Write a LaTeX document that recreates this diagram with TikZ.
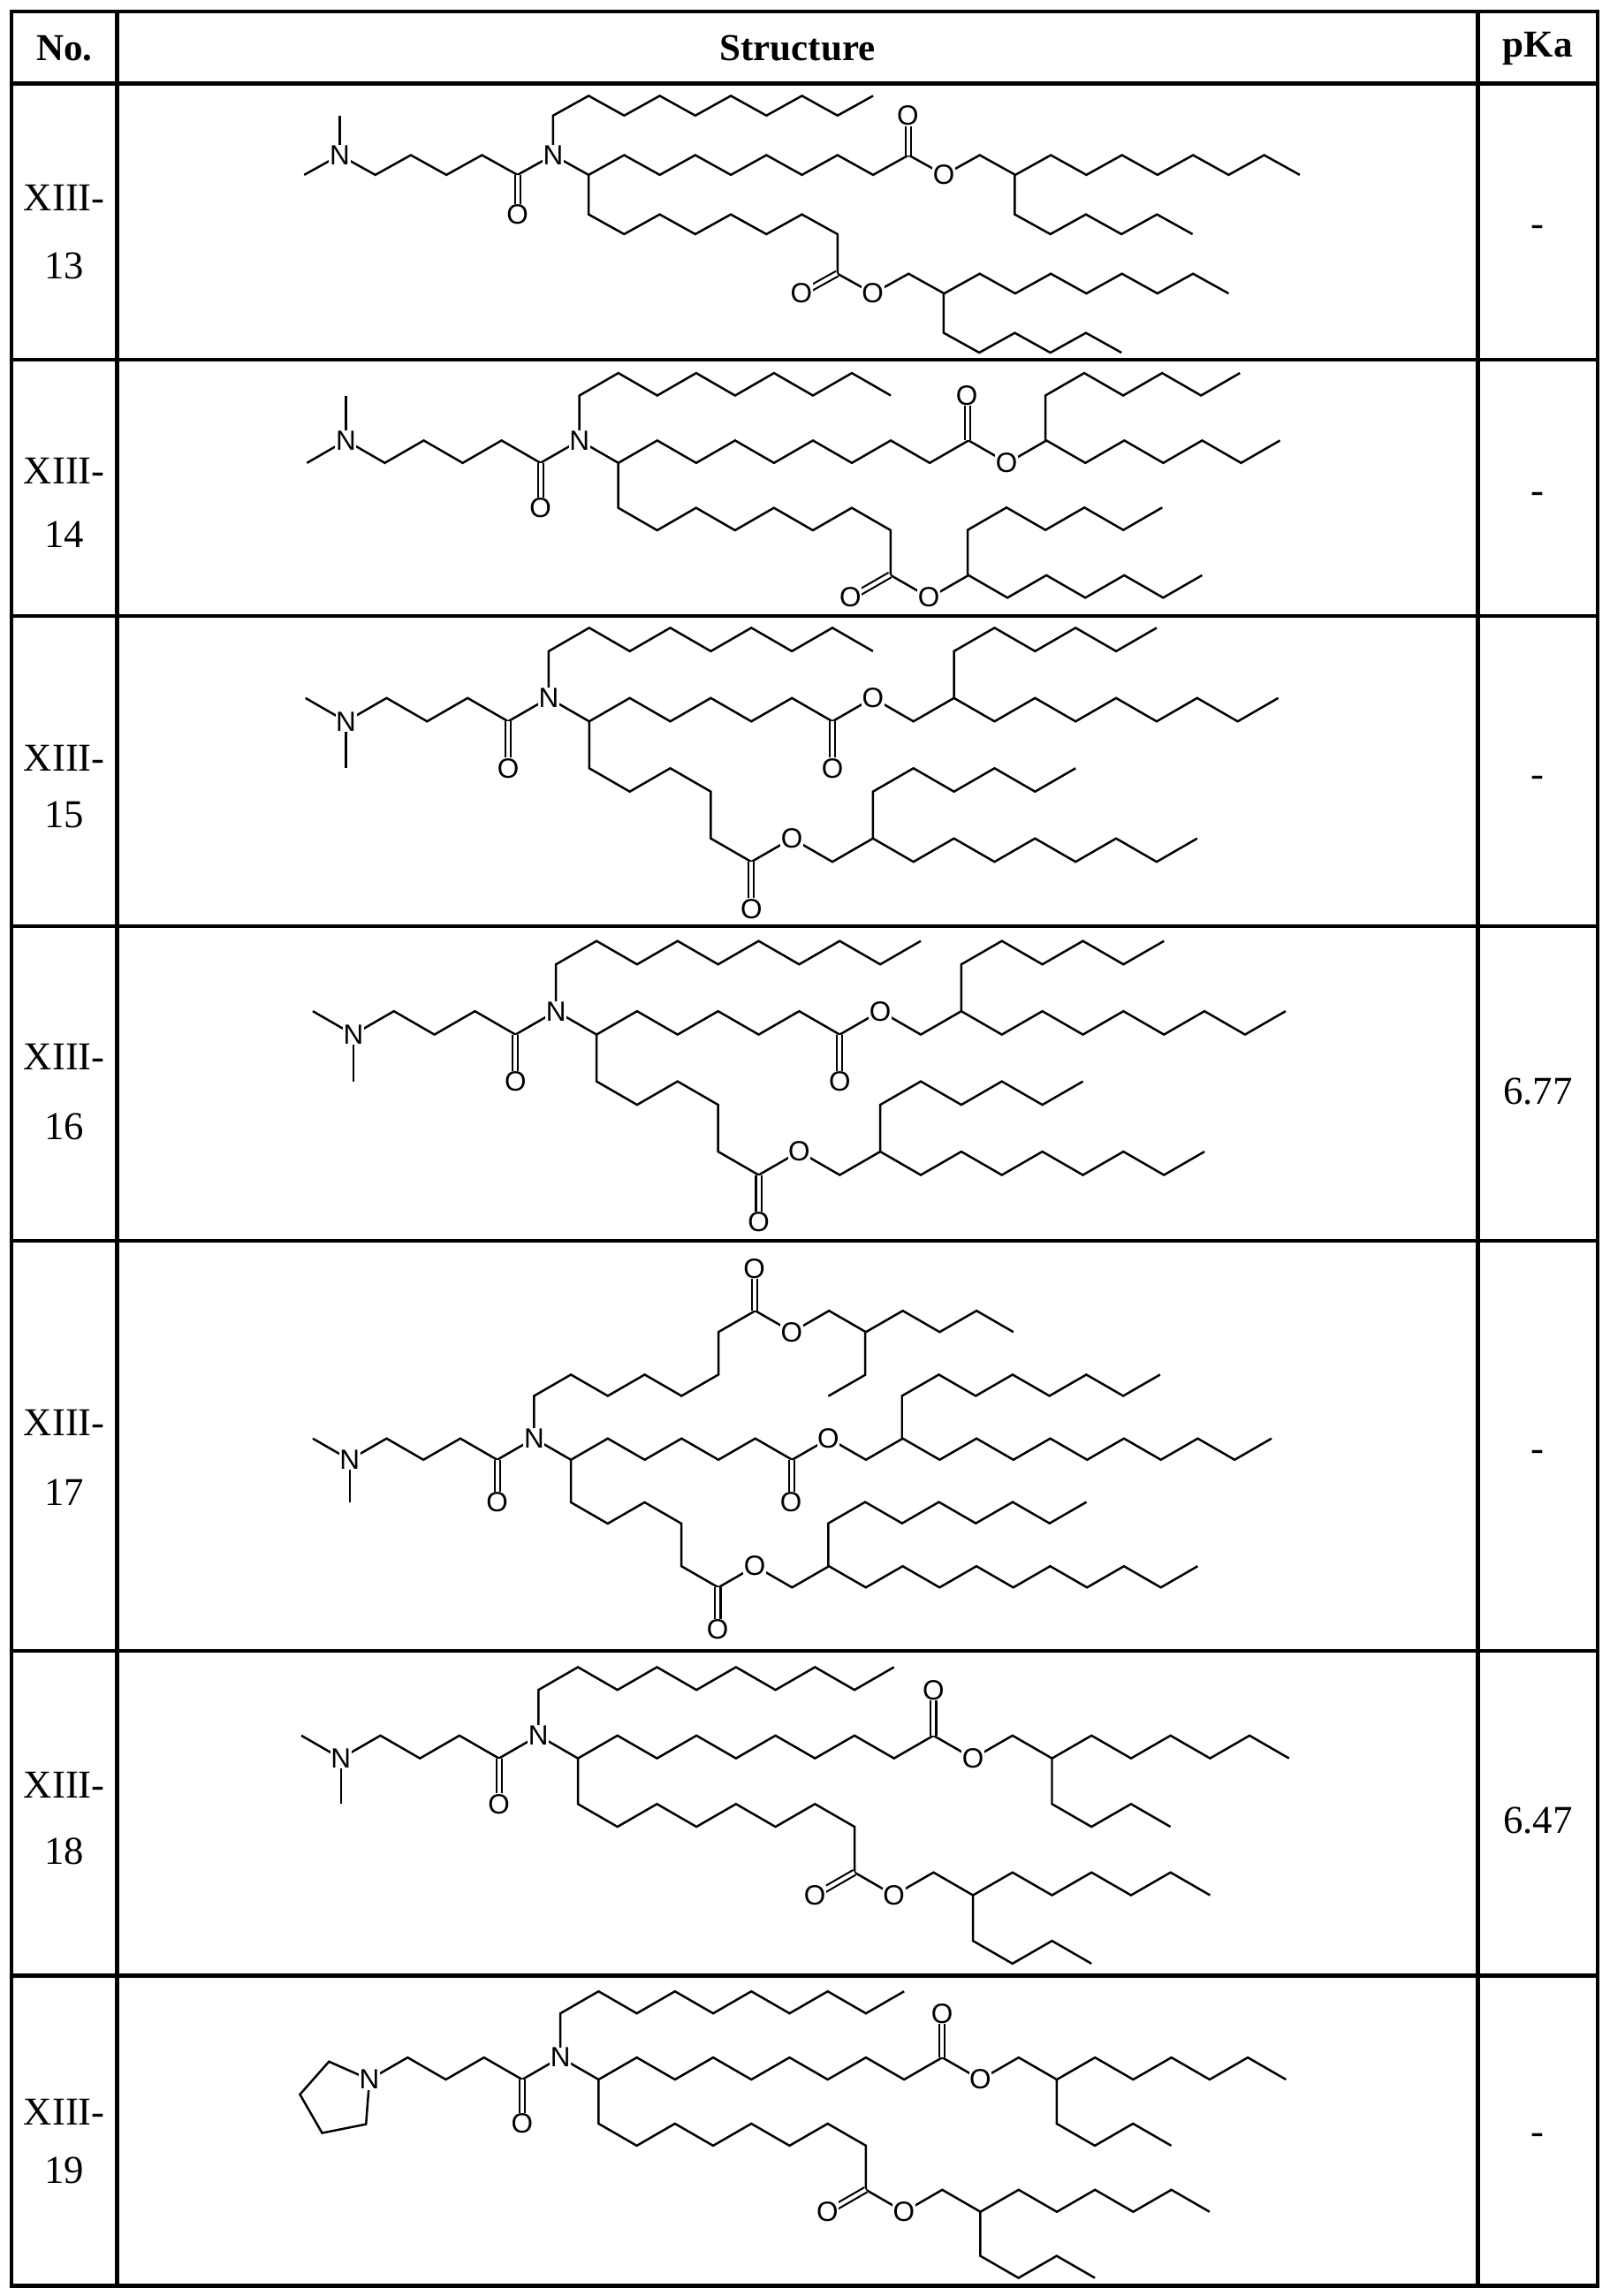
\documentclass[tikz,border=0pt]{standalone}
\usepackage{fontspec}
\setmainfont{Liberation Serif}
\newfontfamily\atomfont{Liberation Sans}
\tikzset{
  bond/.style={line width=1.5pt, line join=miter},
  dbl/.style={line width=1.3pt, double, double distance=2.4pt},
  atomlbl/.style={fill=white, inner sep=0.4pt, font=\atomfont\fontsize{19}{19}\selectfont},
  tbl/.style={line width=2.6pt},
  cell/.style={font=\fontsize{27}{27}\selectfont},
  hcell/.style={font=\bfseries\fontsize{26}{26}\selectfont}
}
\def\U{-- ++(1,-0.577)}
\def\D{-- ++(1,0.577)}
\def\Vd{-- ++(0,1.155)}
\def\Vu{-- ++(0,-1.155)}
\newcommand\atom[2]{\node[atomlbl] at (#1) {#2};}
\newcommand\headsix{%
  \draw[bond] (-6,0) \D\U\D\U\D\U;
  \draw[bond] (-6,0) -- (-6,-1.155);
  \draw[bond] (-6,0) -- (-7,0.577);
  \draw[dbl] (-1,0.577) -- (-1,1.732);
  \atom{-6,0}{N} \atom{0,0}{N} \atom{-1,1.732}{O}}
\newcommand\headfive{%
  \draw[bond] (-5,0.577) \U\D\U\D\U;
  \draw[bond] (-5,0.577) -- (-6,0);
  \draw[bond] (-5,0.577) -- (-5,1.732);
  \draw[dbl] (-1,0.577) -- (-1,1.732);
  \atom{-5,0.577}{N} \atom{0,0}{N} \atom{-1,1.732}{O}}
\newcommand\headpyr{%
  \draw[bond] (-5,0.577) \U\D\U\D\U;
  \draw[bond] (-5,0.577) -- ++(-1.06,-0.47) -- ++(-0.76,0.86) -- ++(0.58,1.01) -- ++(1.15,-0.23) -- cycle;
  \draw[dbl] (-1,0.577) -- (-1,1.732);
  \atom{-5,0.577}{N} \atom{0,0}{N} \atom{-1,1.732}{O}}
\begin{document}
\begin{tikzpicture}[x=1pt,y=-1pt]
\useasboundingbox (0,0) rectangle (1100,1569);
% table
\draw[tbl] (8,8) rectangle (1092,1562);
\foreach \yy in {57,246,421,633,848,1128,1350} {\draw[tbl] (8,\yy) -- (1092,\yy);}
\draw[tbl] (80,8) -- (80,1562);
\draw[tbl] (1010,8) -- (1010,1562);
\node[hcell] (hno) at (44,33) {No.};
\node[hcell] (hst) at (545,33) {Structure};
\node[hcell] (hpk) at (1051,33) {pKa};
\foreach \a/\b/\n in {135/182/13,322/365/14,518/557/15,722/770/16,972/1020/17,1220/1265/18,1443/1483/19} {
  \node[cell] at (44,\a) {XIII-};
  \node[cell] at (44,\b) {\n};
}
\node[cell] at (1051,158) {-};
\node[cell] at (1051,340) {-};
\node[cell] at (1051,534) {-};
\node[cell] at (1051,746) {6.77};
\node[cell] at (1051,995) {-};
\node[cell] at (1051,1244) {6.47};
\node[cell] at (1051,1462) {-};

% ---------- XIII-13
\begin{scope}[shift={(378,106)},xscale=24.3,yscale=23.4]
\draw[bond] (0,0) -- (0,-1.155) \U\D\U\D\U\D\U\D\U;
\draw[bond] (0,0) \D coordinate(ch) \U\D\U\D\U\D\U\D\U coordinate(c1) \D coordinate(o1) \U\D coordinate(b1) \U\D\U\D\U\D\U\D;
\draw[bond] (b1) \Vd \D\U\D\U\D;
\draw[dbl] (c1) -- ++(0,-1.155) coordinate(oc1);
\draw[bond] (ch) \Vd \D\U\D\U\D\U\D \Vd coordinate(c2) \D coordinate(o2) \U\D coordinate(b2) \U\D\U\D\U\D\U\D;
\draw[bond] (b2) \Vd \D\U\D\U\D;
\draw[dbl] (c2) -- ++(-1,0.577) coordinate(oc2);
\headsix
\atom{o1}{O} \atom{o2}{O} \atom{oc1}{O} \atom{oc2}{O}
\end{scope}

% ---------- XIII-14
\begin{scope}[shift={(396,301)},scale=26.6]
\draw[bond] (0,0) -- (0,-1.155) \U\D\U\D\U\D\U\D;
\draw[bond] (0,0) \D coordinate(ch) \U\D\U\D\U\D\U\D\U coordinate(c1) \D coordinate(o1) \U coordinate(b1) \D\U\D\U\D\U;
\draw[bond] (b1) \Vu \U\D\U\D\U;
\draw[dbl] (c1) -- ++(0,-1.155) coordinate(oc1);
\draw[bond] (ch) \Vd \D\U\D\U\D\U\D \Vd coordinate(c2) \D coordinate(o2) \U coordinate(b2) \D\U\D\U\D\U;
\draw[bond] (b2) \Vu \U\D\U\D\U;
\draw[dbl] (c2) -- ++(-1,0.577) coordinate(oc2);
\headsix
\atom{o1}{O} \atom{o2}{O} \atom{oc1}{O} \atom{oc2}{O}
\end{scope}

% ---------- XIII-15
\begin{scope}[shift={(375,477)},scale=27.7]
\draw[bond] (0,0) -- (0,-1.155) \U\D\U\D\U\D\U\D;
\draw[bond] (0,0) \D coordinate(ch) \U\D\U\D\U\D coordinate(c1) \U coordinate(o1) \D\U coordinate(b1) \D\U\D\U\D\U\D\U;
\draw[bond] (b1) \Vu \U\D\U\D\U;
\draw[dbl] (c1) -- ++(0,1.155) coordinate(oc1);
\draw[bond] (ch) \Vd \D\U\D \Vd \D coordinate(c2) \U coordinate(o2) \D\U coordinate(b2) \D\U\D\U\D\U\D\U;
\draw[bond] (b2) \Vu \U\D\U\D\U;
\draw[dbl] (c2) -- ++(0,1.155) coordinate(oc2);
\headfive
\atom{o1}{O} \atom{o2}{O} \atom{oc1}{O} \atom{oc2}{O}
\end{scope}

% ---------- XIII-16
\begin{scope}[shift={(380,691)},scale=27.7]
\draw[bond] (0,0) -- (0,-1.155) \U\D\U\D\U\D\U\D\U;
\draw[bond] (0,0) \D coordinate(ch) \U\D\U\D\U\D coordinate(c1) \U coordinate(o1) \D\U coordinate(b1) \D\U\D\U\D\U\D\U;
\draw[bond] (b1) \Vu \U\D\U\D\U;
\draw[dbl] (c1) -- ++(0,1.155) coordinate(oc1);
\draw[bond] (ch) \Vd \D\U\D \Vd \D coordinate(c2) \U coordinate(o2) \D\U coordinate(b2) \D\U\D\U\D\U\D\U;
\draw[bond] (b2) \Vu \U\D\U\D\U;
\draw[dbl] (c2) -- ++(0,1.155) coordinate(oc2);
\headfive
\atom{o1}{O} \atom{o2}{O} \atom{oc1}{O} \atom{oc2}{O}
\end{scope}

% ---------- XIII-17
\begin{scope}[shift={(365,983)},scale=25.2]
\draw[bond] (0,0) -- (0,-1.155) \U\D\U\D\U \Vu \U coordinate(c3) \D coordinate(o3) \U\D coordinate(b3) \U\D\U\D;
\draw[bond] (b3) \Vd -- ++(-1,0.577);
\draw[dbl] (c3) -- ++(0,-1.155) coordinate(oc3);
\draw[bond] (0,0) \D coordinate(ch) \U\D\U\D\U\D coordinate(c1) \U coordinate(o1) \D\U coordinate(b1) \D\U\D\U\D\U\D\U\D\U;
\draw[bond] (b1) \Vu \U\D\U\D\U\D\U;
\draw[dbl] (c1) -- ++(0,1.155) coordinate(oc1);
\draw[bond] (ch) \Vd \D\U\D \Vd \D coordinate(c2) \U coordinate(o2) \D\U coordinate(b2) \D\U\D\U\D\U\D\U\D\U;
\draw[bond] (b2) \Vu \U\D\U\D\U\D\U;
\draw[dbl] (c2) -- ++(0,1.155) coordinate(oc2);
\headfive
\atom{o1}{O} \atom{o2}{O} \atom{o3}{O} \atom{oc1}{O} \atom{oc2}{O} \atom{oc3}{O}
\end{scope}

% ---------- XIII-18
\begin{scope}[shift={(368,1186)},scale=27.0]
\draw[bond] (0,0) -- (0,-1.155) \U\D\U\D\U\D\U\D\U;
\draw[bond] (0,0) \D coordinate(ch) \U\D\U\D\U\D\U\D\U coordinate(c1) \D coordinate(o1) \U\D coordinate(b1) \U\D\U\D\U\D;
\draw[bond] (b1) \Vd \D\U\D;
\draw[dbl] (c1) -- ++(0,-1.155) coordinate(oc1);
\draw[bond] (ch) \Vd \D\U\D\U\D\U\D \Vd coordinate(c2) \D coordinate(o2) \U\D coordinate(b2) \U\D\U\D\U\D;
\draw[bond] (b2) \Vd \D\U\D;
\draw[dbl] (c2) -- ++(-1,0.577) coordinate(oc2);
\headfive
\atom{o1}{O} \atom{o2}{O} \atom{oc1}{O} \atom{oc2}{O}
\end{scope}

% ---------- XIII-19
\begin{scope}[shift={(383,1406)},scale=26.1]
\draw[bond] (0,0) -- (0,-1.155) \U\D\U\D\U\D\U\D\U;
\draw[bond] (0,0) \D coordinate(ch) \U\D\U\D\U\D\U\D\U coordinate(c1) \D coordinate(o1) \U\D coordinate(b1) \U\D\U\D\U\D;
\draw[bond] (b1) \Vd \D\U\D;
\draw[dbl] (c1) -- ++(0,-1.155) coordinate(oc1);
\draw[bond] (ch) \Vd \D\U\D\U\D\U\D \Vd coordinate(c2) \D coordinate(o2) \U\D coordinate(b2) \U\D\U\D\U\D;
\draw[bond] (b2) \Vd \D\U\D;
\draw[dbl] (c2) -- ++(-1,0.577) coordinate(oc2);
\headpyr
\atom{o1}{O} \atom{o2}{O} \atom{oc1}{O} \atom{oc2}{O}
\end{scope}
\end{tikzpicture}
\end{document}
